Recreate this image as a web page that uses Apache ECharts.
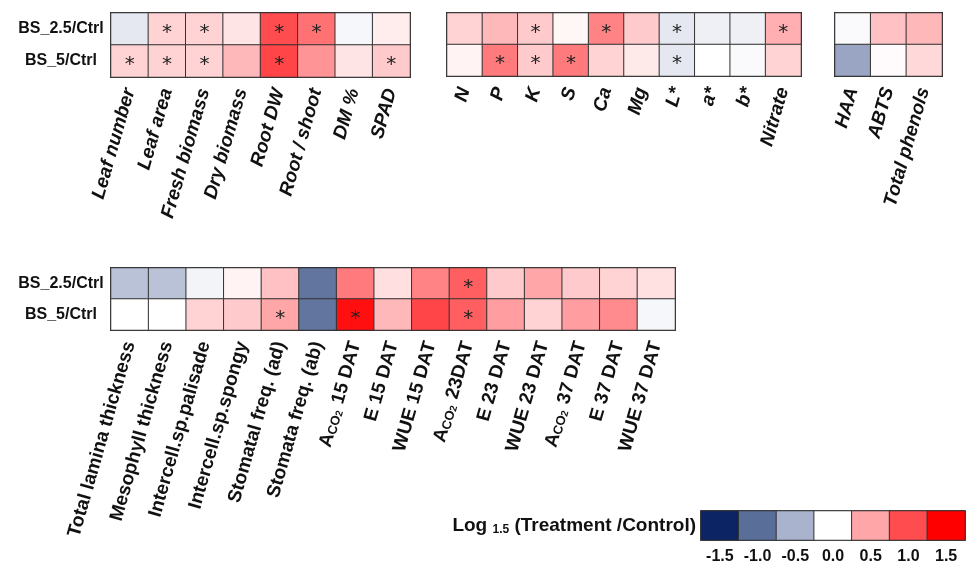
<!DOCTYPE html>
<html><head><meta charset="utf-8">
<script src="https://cdn.jsdelivr.net/npm/echarts@6/dist/echarts.min.js"></script>
<style>html,body{margin:0;padding:0;background:#fff}#c{width:976px;height:565px}</style>
</head><body><div id="c"></div>
<script>
const rows = ['BS_2.5/Ctrl', 'BS_5/Ctrl'];

const growthCats = ['Leaf number', 'Leaf area', 'Fresh biomass', 'Dry biomass', 'Root DW', 'Root / shoot', 'DM %', 'SPAD'];
const growthBS25 = [-0.15, 0.25, 0.25, 0.15, 1.0, 0.8, -0.05, 0.1];
const growthBS5  = [0.25, 0.25, 0.25, 0.4, 1.05, 0.6, 0.15, 0.3];
const growthSig25 = [0, 1, 1, 0, 1, 1, 0, 0];
const growthSig5  = [1, 1, 1, 0, 1, 0, 0, 1];

const mineralCats = ['N', 'P', 'K', 'S', 'Ca', 'Mg', 'L*', 'a*', 'b*', 'Nitrate'];
const mineralBS25 = [0.25, 0.4, 0.3, 0.05, 0.7, 0.3, -0.15, -0.1, -0.1, 0.45];
const mineralBS5  = [0.07, 0.75, 0.3, 0.75, 0.25, 0.12, -0.15, 0.0, -0.03, 0.25];
const mineralSig25 = [0, 0, 1, 0, 1, 0, 1, 0, 0, 1];
const mineralSig5  = [0, 1, 1, 1, 0, 0, 1, 0, 0, 0];

const antioxCats = ['HAA', 'ABTS', 'Total phenols'];
const antioxBS25 = [-0.03, 0.35, 0.4];
const antioxBS5  = [-0.6, 0.02, 0.22];
const antioxSig25 = [0, 0, 0];
const antioxSig5  = [0, 0, 0];

const physCats = ['Total lamina thickness', 'Mesophyll thickness', 'Intercell.sp.palisade', 'Intercell.sp.spongy',
  'Stomatal freq. (ad)', 'Stomata freq. (ab)', 'A_CO2 15 DAT', 'E 15 DAT', 'WUE 15 DAT', 'A_CO2 23DAT',
  'E 23 DAT', 'WUE 23 DAT', 'A_CO2 37 DAT', 'E 37 DAT', 'WUE 37 DAT'];
const physBS25 = [-0.4, -0.4, -0.07, 0.07, 0.35, -0.95, 0.75, 0.18, 0.7, 0.9, 0.3, 0.5, 0.3, 0.25, 0.17];
const physBS5  = [0.0, 0.0, 0.25, 0.3, 0.5, -0.95, 1.4, 0.4, 1.05, 0.9, 0.55, 0.25, 0.55, 0.65, -0.05];
const physSig25 = [0, 0, 0, 0, 0, 0, 0, 0, 0, 1, 0, 0, 0, 0, 0];
const physSig5  = [0, 0, 0, 0, 1, 0, 1, 0, 0, 1, 0, 0, 0, 0, 0];

const legendTicks = ['-1.5', '-1.0', '-0.5', '0.0', '0.5', '1.0', '1.5'];
const scaleColors = ['#0d2464', '#5a6e9a', '#a9b3cd', '#ffffff', '#ffa6a9', '#ff4d4f', '#ff0000'];

const FONT = 'Liberation Sans, Arial, sans-serif';

function cells(v25, v5, s25, s5) {
  const out = [];
  v25.forEach((v, i) => out.push([i, 0, v, s25[i]]));
  v5.forEach((v, i) => out.push([i, 1, v, s5[i]]));
  return out;
}

const blocks = [
  { cats: growthCats, d: cells(growthBS25, growthBS5, growthSig25, growthSig5), grid: { left: 111, top: 13, width: 299, height: 64 }, yLabels: true, italic: 'italic' },
  { cats: mineralCats, d: cells(mineralBS25, mineralBS5, mineralSig25, mineralSig5), grid: { left: 447, top: 13, width: 354, height: 63 }, yLabels: false, italic: 'italic' },
  { cats: antioxCats, d: cells(antioxBS25, antioxBS5, antioxSig25, antioxSig5), grid: { left: 835, top: 13, width: 107, height: 63 }, yLabels: false, italic: 'italic' },
  { cats: physCats, d: cells(physBS25, physBS5, physSig25, physSig5), grid: { left: 111, top: 268, width: 564, height: 62 }, yLabels: true, italic: 'normal' }
];

const grids = [], xAxes = [], yAxes = [], series = [];
blocks.forEach((b, k) => {
  grids.push(Object.assign({ show: true, borderColor: '#222', borderWidth: 2, backgroundColor: 'transparent' }, b.grid));
  xAxes.push({
    type: 'category', gridIndex: k, data: b.cats,
    axisLine: { show: false }, axisTick: { show: false }, splitLine: { show: false },
    axisLabel: {
      interval: 0, rotate: 74, margin: 12, fontSize: 19, fontWeight: 'bold', fontStyle: b.italic,
      color: '#111', fontFamily: FONT,
      formatter: v => v.replace('A_CO2', 'A{sub|CO}{sub2|2}'),
      rich: {
        sub: { fontSize: 13, fontWeight: 'bold', fontFamily: FONT, color: '#111', verticalAlign: 'bottom', padding: [6, 0, 0, 0] },
        sub2: { fontSize: 10, fontWeight: 'bold', fontFamily: FONT, color: '#111', verticalAlign: 'bottom', padding: [9, 1, 0, 0] }
      }
    }
  });
  yAxes.push({
    type: 'category', gridIndex: k, data: rows, inverse: true,
    axisLine: { show: false }, axisTick: { show: false }, splitLine: { show: false },
    axisLabel: { show: b.yLabels, margin: 50, align: 'center', fontSize: 16, fontWeight: 'bold', color: '#111', fontFamily: FONT }
  });
  series.push({
    type: 'heatmap', xAxisIndex: k, yAxisIndex: k, data: b.d,
    itemStyle: { borderColor: '#333', borderWidth: 1 },
    emphasis: { disabled: true },
    label: {
      show: true, formatter: p => (p.data[3] ? '*' : ''), fontSize: 20, color: '#222',
      fontFamily: 'DejaVu Sans', offset: [0, 4]
    }
  });
});

// colour-scale legend drawn as a one-row heatmap
const L = blocks.length;
grids.push({ show: true, left: 701, top: 511, width: 264, height: 32, borderColor: '#222', borderWidth: 1.5, backgroundColor: 'transparent' });
xAxes.push({
  type: 'category', gridIndex: L, data: legendTicks,
  axisLine: { show: false }, axisTick: { show: false },
  axisLabel: { interval: 0, margin: 9, fontSize: 16, fontWeight: 'bold', color: '#111', fontFamily: FONT }
});
yAxes.push({
  type: 'category', gridIndex: L, data: ['Log {s|1.5} (Treatment /Control)'],
  axisLine: { show: false }, axisTick: { show: false },
  axisLabel: {
    margin: 5, fontSize: 19, fontWeight: 'bold', color: '#111', fontFamily: FONT,
    rich: { s: { fontSize: 12, fontWeight: 'bold', color: '#111', fontFamily: FONT, verticalAlign: 'bottom', padding: [9, 0, 0, 0] } }
  }
});
series.push({
  type: 'heatmap', xAxisIndex: L, yAxisIndex: L,
  data: legendTicks.map((t, i) => [i, 0, parseFloat(t)]),
  itemStyle: { borderColor: '#333', borderWidth: 1 },
  emphasis: { disabled: true }
});

const chart = echarts.init(document.getElementById('c'), null, { renderer: 'canvas' });
chart.setOption({
  animation: false,
  backgroundColor: '#fff',
  grid: grids, xAxis: xAxes, yAxis: yAxes, series: series,
  visualMap: {
    show: false, type: 'continuous', min: -1.5, max: 1.5, dimension: 2,
    seriesIndex: series.map((s, i) => i),
    inRange: { color: scaleColors }
  }
});
</script></body></html>
